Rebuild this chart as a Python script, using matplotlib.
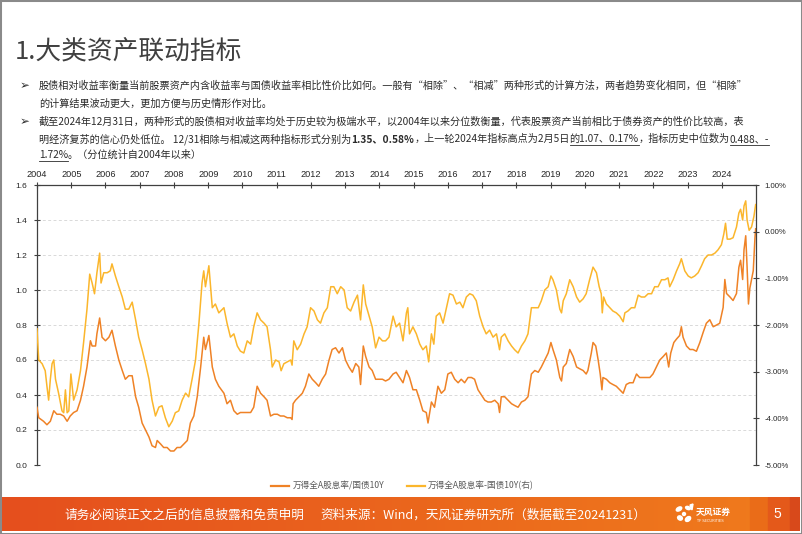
import numpy as np

import matplotlib

matplotlib.use("Agg")
import matplotlib.pyplot as plt
from matplotlib.lines import Line2D
from matplotlib.patches import Ellipse, Rectangle, Polygon
from matplotlib.colors import to_rgb


CJK = ["Noto Sans CJK SC", "DejaVu Sans"]
NUM = ["Liberation Sans", "DejaVu Sans"]
plt.rcParams["font.family"] = CJK
plt.rcParams["axes.unicode_minus"] = False

ORANGE = "#EF8226"
YELLOW = "#FBB62C"
TEXT = "#2b2b2b"
AXIS = "#404040"

YEARS = list(range(2004, 2025))
LEFT_TICKS = [0.0, 0.2, 0.4, 0.6, 0.8, 1.0, 1.2, 1.4, 1.6]
RIGHT_TICKS = [-5, -4, -3, -2, -1, 0, 1]

# 万得全A股息率/国债10Y (left axis)
orange_x = [
    2004.00, 2004.05, 2004.19, 2004.29, 2004.39, 2004.49, 2004.58, 2004.68, 2004.78, 2004.88, 2004.97,
    2005.07, 2005.17, 2005.27, 2005.36, 2005.46, 2005.56, 2005.61, 2005.71, 2005.75, 2005.83, 2005.90,
    2006.00, 2006.10, 2006.19, 2006.29, 2006.39, 2006.49, 2006.58, 2006.68, 2006.78, 2006.88, 2006.97,
    2007.07, 2007.17, 2007.27, 2007.36, 2007.46, 2007.51, 2007.61, 2007.70, 2007.80, 2007.90,
    2008.00, 2008.09, 2008.19, 2008.29, 2008.39, 2008.48, 2008.58, 2008.68, 2008.78, 2008.87, 2008.92,
    2009.02, 2009.12, 2009.21, 2009.31, 2009.46, 2009.55, 2009.65, 2009.75, 2009.85, 2009.94,
    2010.04, 2010.14, 2010.24, 2010.33, 2010.43, 2010.53, 2010.63, 2010.72, 2010.82, 2010.92,
    2011.02, 2011.11, 2011.21, 2011.31, 2011.41, 2011.45, 2011.48, 2011.55, 2011.65, 2011.75, 2011.84, 2011.94,
    2012.04, 2012.14, 2012.23, 2012.33, 2012.43, 2012.53, 2012.62, 2012.72, 2012.82, 2012.92,
    2013.01, 2013.11, 2013.21, 2013.31, 2013.40, 2013.45, 2013.53, 2013.60, 2013.70, 2013.79, 2013.89, 2013.99,
    2014.09, 2014.18, 2014.28, 2014.40, 2014.49, 2014.59, 2014.69, 2014.79, 2014.88, 2014.98,
    2015.08, 2015.18, 2015.27, 2015.37, 2015.42, 2015.47, 2015.52, 2015.61, 2015.71, 2015.81, 2015.91,
    2016.00, 2016.10, 2016.20, 2016.30, 2016.39, 2016.49, 2016.59, 2016.69, 2016.78, 2016.88, 2016.98,
    2017.08, 2017.17, 2017.27, 2017.37, 2017.47, 2017.51, 2017.56, 2017.66, 2017.76, 2017.86, 2017.95,
    2018.05, 2018.15, 2018.25, 2018.34, 2018.44, 2018.54, 2018.64, 2018.73, 2018.83, 2018.93,
    2019.01, 2019.07, 2019.17, 2019.27, 2019.32, 2019.37, 2019.46, 2019.56, 2019.66, 2019.76, 2019.85, 2019.95,
    2020.04, 2020.09, 2020.19, 2020.24, 2020.32, 2020.39, 2020.45, 2020.50, 2020.53, 2020.63, 2020.73, 2020.82, 2020.92,
    2021.02, 2021.12, 2021.21, 2021.31, 2021.41, 2021.51, 2021.60, 2021.70, 2021.80, 2021.90, 2021.99,
    2022.09, 2022.19, 2022.29, 2022.38, 2022.45, 2022.51, 2022.60, 2022.68, 2022.77, 2022.82, 2022.87, 2022.97,
    2023.07, 2023.16, 2023.26, 2023.36, 2023.46, 2023.55, 2023.65, 2023.75, 2023.85, 2023.94,
    2024.04, 2024.09, 2024.14, 2024.24, 2024.33, 2024.43, 2024.50, 2024.55, 2024.61, 2024.65, 2024.70,
    2024.74, 2024.78, 2024.82, 2024.87, 2024.92, 2024.97, 2024.99,
]
orange_y = [
    0.33, 0.27, 0.25, 0.23, 0.25, 0.31, 0.29, 0.29, 0.28, 0.25, 0.28,
    0.30, 0.31, 0.37, 0.45, 0.56, 0.71, 0.68, 0.68, 0.75, 0.84, 0.73,
    0.71, 0.73, 0.77, 0.68, 0.60, 0.54, 0.49, 0.51, 0.51, 0.39, 0.33,
    0.24, 0.20, 0.16, 0.11, 0.10, 0.14, 0.12, 0.10, 0.10, 0.08,
    0.08, 0.10, 0.10, 0.12, 0.14, 0.24, 0.28, 0.39, 0.56, 0.73, 0.66,
    0.74, 0.56, 0.49, 0.45, 0.41, 0.35, 0.37, 0.31, 0.29, 0.30,
    0.30, 0.30, 0.30, 0.33, 0.45, 0.41, 0.39, 0.37, 0.28, 0.29,
    0.29, 0.28, 0.28, 0.27, 0.27, 0.26, 0.35, 0.37, 0.39, 0.41, 0.45, 0.52,
    0.49, 0.47, 0.45, 0.49, 0.52, 0.60, 0.66, 0.67, 0.64, 0.67,
    0.60, 0.56, 0.53, 0.58, 0.56, 0.46, 0.68, 0.62, 0.56, 0.54, 0.49, 0.49,
    0.49, 0.48, 0.49, 0.52, 0.53, 0.50, 0.47, 0.54, 0.50, 0.43,
    0.43, 0.37, 0.31, 0.30, 0.24, 0.30, 0.36, 0.33, 0.45, 0.41, 0.43,
    0.52, 0.53, 0.49, 0.47, 0.49, 0.47, 0.50, 0.50, 0.49, 0.43, 0.40,
    0.37, 0.36, 0.36, 0.37, 0.35, 0.30, 0.39, 0.39, 0.37, 0.35, 0.34,
    0.33, 0.36, 0.37, 0.39, 0.52, 0.54, 0.53, 0.56, 0.60, 0.64,
    0.70, 0.66, 0.60, 0.50, 0.48, 0.56, 0.58, 0.66, 0.62, 0.56, 0.55, 0.54,
    0.52, 0.54, 0.64, 0.70, 0.68, 0.60, 0.52, 0.43, 0.50, 0.49, 0.47, 0.46, 0.45,
    0.43, 0.41, 0.46, 0.47, 0.47, 0.52, 0.50, 0.50, 0.50, 0.50, 0.52,
    0.56, 0.60, 0.62, 0.64, 0.56, 0.64, 0.70, 0.72, 0.74, 0.79, 0.73, 0.68,
    0.66, 0.66, 0.65, 0.70, 0.76, 0.81, 0.83, 0.79, 0.80, 0.81,
    0.90, 1.06, 0.98, 0.96, 0.94, 0.98, 1.13, 1.17, 1.06, 1.23, 1.31,
    1.13, 0.92, 1.01, 1.06, 1.11, 1.30, 1.35,
]

# 万得全A股息率-国债10Y (right axis, %)
yellow_x = [
    2004.00, 2004.05, 2004.15, 2004.24, 2004.29, 2004.34, 2004.39, 2004.44, 2004.49, 2004.54, 2004.63,
    2004.73, 2004.78, 2004.83, 2004.88, 2004.93, 2004.99,
    2005.07, 2005.17, 2005.27, 2005.36, 2005.46, 2005.54, 2005.61, 2005.68, 2005.75, 2005.83, 2005.87, 2005.95,
    2006.05, 2006.14, 2006.19, 2006.29, 2006.39, 2006.49, 2006.58, 2006.68, 2006.78, 2006.88, 2006.97,
    2007.07, 2007.17, 2007.27, 2007.36, 2007.46, 2007.56, 2007.65, 2007.75, 2007.85, 2007.95,
    2008.04, 2008.14, 2008.24, 2008.34, 2008.43, 2008.53, 2008.63, 2008.73, 2008.82, 2008.87, 2008.92,
    2009.02, 2009.12, 2009.21, 2009.31, 2009.46, 2009.55, 2009.65, 2009.75, 2009.85, 2009.94,
    2010.04, 2010.14, 2010.24, 2010.33, 2010.43, 2010.53, 2010.63, 2010.72, 2010.82, 2010.87, 2010.97,
    2011.07, 2011.13, 2011.21, 2011.31, 2011.41, 2011.45, 2011.50, 2011.60, 2011.70, 2011.80, 2011.89, 2011.99,
    2012.09, 2012.19, 2012.28, 2012.38, 2012.48, 2012.58, 2012.67, 2012.77, 2012.87, 2012.97,
    2013.06, 2013.16, 2013.26, 2013.36, 2013.45, 2013.53, 2013.60, 2013.70, 2013.79, 2013.89, 2013.99,
    2014.09, 2014.18, 2014.28, 2014.40, 2014.49, 2014.59, 2014.69, 2014.79, 2014.83, 2014.88, 2014.98,
    2015.08, 2015.18, 2015.27, 2015.37, 2015.44, 2015.52, 2015.59, 2015.66, 2015.76, 2015.86, 2015.96,
    2016.05, 2016.15, 2016.25, 2016.35, 2016.44, 2016.54, 2016.64, 2016.73, 2016.83, 2016.93,
    2017.03, 2017.12, 2017.22, 2017.32, 2017.42, 2017.51, 2017.56, 2017.66, 2017.76, 2017.86, 2017.95,
    2018.05, 2018.15, 2018.25, 2018.34, 2018.44, 2018.54, 2018.64, 2018.73, 2018.83, 2018.93,
    2019.01, 2019.07, 2019.17, 2019.27, 2019.32, 2019.37, 2019.46, 2019.56, 2019.66, 2019.76, 2019.85, 2019.95,
    2020.04, 2020.14, 2020.24, 2020.34, 2020.42, 2020.48, 2020.51, 2020.55, 2020.63, 2020.73, 2020.82, 2020.92,
    2021.02, 2021.12, 2021.17, 2021.26, 2021.36, 2021.46, 2021.56, 2021.65, 2021.75, 2021.85, 2021.95,
    2022.04, 2022.14, 2022.24, 2022.34, 2022.43, 2022.48, 2022.58, 2022.68, 2022.77, 2022.82, 2022.92,
    2023.02, 2023.11, 2023.21, 2023.31, 2023.41, 2023.50, 2023.60, 2023.70, 2023.80, 2023.89, 2023.99,
    2024.06, 2024.11, 2024.16, 2024.24, 2024.33, 2024.43, 2024.50, 2024.55, 2024.61, 2024.65, 2024.70,
    2024.74, 2024.80, 2024.87, 2024.94, 2024.99,
]
yellow_y = [
    -2.08, -2.75, -2.83, -2.98, -3.31, -3.61, -3.16, -2.83, -2.75, -3.16, -3.46,
    -3.84, -3.88, -3.39, -3.88, -3.84, -3.05,
    -3.61, -3.39, -2.98, -2.38, -1.66, -0.91, -1.10, -1.33, -0.88, -0.46, -1.10, -0.88,
    -0.88, -0.84, -0.69, -0.95, -1.18, -1.40, -1.66, -1.66, -1.51, -1.89, -2.26,
    -2.53, -2.83, -3.16, -3.61, -3.95, -3.76, -3.73, -3.99, -4.18, -4.06,
    -3.88, -3.84, -3.61, -3.46, -3.54, -3.16, -2.75, -1.96, -1.10, -0.84, -1.18,
    -0.73, -1.63, -1.55, -1.74, -1.63, -1.96, -2.26, -2.19, -2.45, -2.56,
    -2.60, -2.34, -2.41, -2.04, -1.74, -1.89, -1.96, -2.04, -2.53, -2.90, -2.75,
    -2.79, -2.98, -2.83, -2.79, -2.75, -2.86, -2.34, -2.53, -2.41, -2.19, -2.04, -1.63,
    -1.70, -1.89, -1.96, -1.74, -1.63, -1.18, -1.18, -1.33, -1.18, -1.25,
    -1.63, -1.70, -1.51, -1.36, -1.89, -1.14, -1.55, -1.81, -2.04, -2.49, -2.26,
    -2.34, -2.34, -2.26, -1.81, -2.04, -1.96, -2.34, -1.74, -1.63, -2.19, -2.04,
    -2.19, -2.41, -2.53, -2.45, -2.79, -2.19, -2.41, -1.81, -1.74, -1.96, -1.63,
    -1.33, -1.36, -1.55, -1.51, -1.63, -1.40, -1.33, -1.36, -1.48, -1.81,
    -2.04, -2.19, -2.11, -2.26, -2.19, -2.53, -2.26, -2.19, -2.34, -2.45, -2.53,
    -2.60, -2.45, -2.34, -2.19, -1.63, -1.63, -1.63, -1.48, -1.25, -1.18,
    -0.95, -1.03, -1.25, -1.66, -1.74, -1.48, -1.33, -1.03, -1.18, -1.40, -1.51, -1.44,
    -1.33, -1.03, -0.76, -0.88, -1.18, -1.33, -1.74, -1.40, -1.55, -1.63, -1.70, -1.74,
    -1.81, -1.93, -1.74, -1.70, -1.63, -1.63, -1.36, -1.40, -1.40, -1.33, -1.33,
    -1.18, -1.18, -1.03, -1.03, -0.99, -1.18, -1.03, -0.84, -0.69, -0.58, -0.84,
    -0.95, -0.99, -0.95, -0.88, -0.73, -0.58, -0.50, -0.50, -0.46, -0.39, -0.28,
    -0.05, 0.18, -0.16, -0.16, -0.13, 0.10, 0.40, 0.48, 0.25, 0.55, 0.66,
    0.25, 0.03, 0.10, 0.33, 0.58,
]

TITLE = "1.大类资产联动指标"
BULLET_1 = [
    [("股债相对收益率衡量当前股票资产内含收益率与国债收益率相比性价比如何。一般有“相除”、“相减”两种形式的计算方法，两者趋势变化相同，但“相除”", False, False)],
    [("的计算结果波动更大，更加方便与历史情形作对比。", False, False)],
]
BULLET_2 = [
    [("截至2024年12月31日，两种形式的股债相对收益率均处于历史较为极端水平，以2004年以来分位数衡量，代表股票资产当前相比于债券资产的性价比较高，表", False, False)],
    [
        ("明经济复苏的信心仍处低位。 12/31相除与相减这两种指标形式分别为", False, False),
        ("1.35、0.58%", True, False),
        ("，上一轮2024年指标高点为2月5日", False, False),
        ("的1.07、0.17%", False, True),
        ("，指标历史中位数为", False, False),
        ("0.488、-", False, True),
    ],
    [("1.72%", False, True), ("。（分位统计自2004年以来）", False, False)],
]
LEGEND = ["万得全A股息率/国债10Y", "万得全A股息率-国债10Y(右)"]
FOOTER_LEFT = "请务必阅读正文之后的信息披露和免责申明"
FOOTER_SOURCE = "资料来源：Wind，天风证券研究所（数据截至20241231）"

W, H = 802, 534


def fx(px):
    return px / W


def fy(py):
    return 1 - py / H


fig = plt.figure(figsize=(W / 100, H / 100), dpi=100)
fig.patch.set_facecolor("white")
renderer = fig.canvas.get_renderer()

# title + bullet text
fig.text(fx(15), fy(52), TITLE, fontsize=18.5, color="#404040", va="center", family=CJK)


def draw_runs(x0, yc, runs, size=7.3):
    x = x0
    for txt, bold, under in runs:
        t = fig.text(fx(x), fy(yc), txt, fontsize=size, color=TEXT, va="center",
                     fontweight="bold" if bold else "normal", family=CJK)
        bb = t.get_window_extent(renderer)
        if under:
            fig.add_artist(Line2D([bb.x0 / W, bb.x1 / W], [fy(yc + 6)] * 2, color=TEXT, lw=0.6))
        x = bb.x1


for yc, runs in zip([86, 104], BULLET_1):
    draw_runs(39, yc, runs)
for yc, runs in zip([122, 139, 155], BULLET_2):
    draw_runs(39, yc, runs)
for yc in [86, 122]:
    fig.text(fx(20), fy(yc), "➢", fontsize=8.5, color=TEXT, va="center", family=["DejaVu Sans"])

# chart
ax = fig.add_axes([fx(37), fy(465), fx(756) - fx(37), fy(185) - fy(465)])
ax.set_xlim(2004, 2025)
ax.set_ylim(0, 1.6)
for v in LEFT_TICKS[:-1]:
    ax.axhline(v, color="#d9d9d9", lw=0.7, ls=(0, (3, 2.5)), zorder=0)
ax.plot(orange_x, orange_y, color=ORANGE, lw=1.1, zorder=3)

ax.xaxis.tick_top()
ax.set_xticks(YEARS)
ax.set_xticklabels([str(y) for y in YEARS], family=NUM)
ax.set_yticks(LEFT_TICKS)
ax.set_yticklabels([f"{v:.1f}" for v in LEFT_TICKS], family=NUM)
ax.tick_params(axis="x", direction="inout", length=4, width=0.8, color=AXIS,
               labelsize=6.6, pad=2, labelcolor="#262626")
ax.tick_params(axis="y", direction="inout", length=4, width=0.8, color=AXIS,
               labelsize=6.0, pad=5, labelcolor="#262626")
for side in ["bottom", "right"]:
    ax.spines[side].set_visible(False)
for side in ["left", "top"]:
    ax.spines[side].set_color(AXIS)
    ax.spines[side].set_linewidth(0.9)

ax2 = ax.twinx()
ax2.set_ylim(-5, 1)
ax2.plot(yellow_x, yellow_y, color=YELLOW, lw=1.1, zorder=3)
ax2.set_yticks(RIGHT_TICKS)
ax2.set_yticklabels([f"{v:.2f}%" for v in RIGHT_TICKS], family=NUM)
ax2.tick_params(axis="y", direction="inout", length=4, width=0.8, color=AXIS,
                labelsize=5.6, pad=4, labelcolor="#262626")
for side in ["bottom", "left", "top"]:
    ax2.spines[side].set_visible(False)
ax2.spines["right"].set_color(AXIS)
ax2.spines["right"].set_linewidth(0.9)

# legend drawn by hand below the plot
for (x0, x1, xt), color, label in zip([(271, 289, 293), (407, 425, 428)], [ORANGE, YELLOW], LEGEND):
    fig.add_artist(Line2D([fx(x0), fx(x1)], [fy(486)] * 2, color=color, lw=1.6))
    fig.text(fx(xt), fy(486), label, fontsize=6.2, color="#595959", va="center", family=CJK)

# footer band
band = fig.add_axes([fx(2), fy(531), fx(800) - fx(2), fy(497) - fy(531)])
band.set_axis_off()
c0, c1 = np.array(to_rgb("#E54F1E")), np.array(to_rgb("#F07C1C"))
t = np.linspace(0, 1, 400)[None, :, None]
grad = c0 + (c1 - c0) * t
band.imshow(grad, aspect="auto", extent=[0, 798, 0, 1])
band.add_patch(Rectangle((748, 0), 18, 1, color="#EA6C18"))
band.add_patch(Rectangle((766, 0), 22, 1, color="#E4591A"))
band.add_patch(Rectangle((788, 0), 10, 1, color="#D8491B"))
band.set_xlim(0, 798)
band.set_ylim(0, 1)

fig.text(fx(64), fy(515), FOOTER_LEFT, fontsize=9.1, color="white", va="center", family=CJK)
fig.text(fx(320), fy(515), FOOTER_SOURCE, fontsize=9.1, color="white", va="center", family=CJK)
fig.text(fx(777), fy(514), "5", fontsize=10, color="white", va="center", ha="center", family=NUM)

# logo: a few white petals + name
logo = fig.add_axes([fx(674), fy(527), fx(694) - fx(674), fy(503) - fy(527)])
logo.set_axis_off()
logo.set_xlim(0, 20)
logo.set_ylim(0, 24)
for cx, cy, w, h, ang in [(5, 18, 6, 3.5, 30), (14, 19, 5, 3, -20), (6, 9, 5, 4, -30),
                          (14, 8, 6, 4, 40), (10, 13, 3, 3, 0)]:
    logo.add_patch(Ellipse((cx, cy), w, h, angle=ang, color="white"))
logo.add_patch(Polygon([[16, 22], [19, 23], [18, 17]], color="white"))
fig.text(fx(696), fy(512), "天风证券", fontsize=6.3, color="white", va="center",
         fontweight="bold", family=CJK)
fig.text(fx(697), fy(521), "TF SECURITIES", fontsize=2.6, color="white", va="center", family=NUM)

# slide frame
fig.add_artist(Rectangle((0, 0), 1, 1, transform=fig.transFigure, fill=False,
                         edgecolor="#8a8a8a", lw=2.2))

fig.savefig("out.png", dpi=100, facecolor="white")
